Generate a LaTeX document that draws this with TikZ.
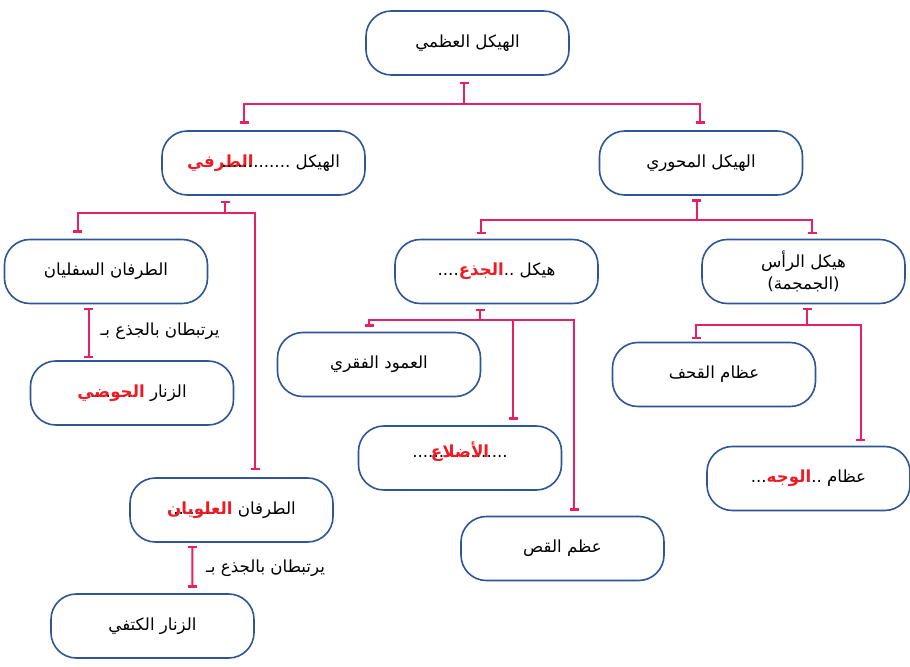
\documentclass[tikz,border=0pt]{standalone}
\usepackage{fontspec}
\setmainfont{DejaVu Sans}
\newfontfamily\arabicfont[Script=Arabic]{DejaVu Sans}
\TeXXeTstate=1
\usetikzlibrary{arrows.meta,calc}
\definecolor{boxblue}{RGB}{47,85,151}
\definecolor{linkpink}{RGB}{233,30,99}
\definecolor{ansred}{RGB}{237,28,36}
\newcommand\AR[1]{{\arabicfont\beginR #1\endR}}
\newcommand\RED[1]{\textcolor{ansred}{\bfseries\AR{#1}}}
\newcommand\ANS[2]{\ooalign{\hfil #1\hfil\cr\hfil\RED{#2}\hfil\cr}}
\tikzset{
  box/.style={draw=boxblue, line width=1.2pt, rounded corners=19pt,
    minimum width=152.25pt, minimum height=48pt, inner sep=0pt,
    fill=white, align=center, font=\fontsize{12.5}{17}\selectfont},
  lbl/.style={inner sep=0pt, font=\fontsize{12.5}{15}\selectfont},
  conn/.style={draw=linkpink, line width=1.5pt,
    {Bar[width=6.75pt,line width=1.9pt]}-{Bar[width=6.75pt,line width=1.9pt]}}
}
\begin{document}
\begin{tikzpicture}[x=0.75pt,y=-0.75pt]
\fill[white] (0,0) rectangle (910,667);
\useasboundingbox (0,0) rectangle (910,667);

% nodes
\node[box] (A) at (467.5,43) {\AR{الهيكل العظمي}};
\node[box] (B) at (263.5,163) {\RED{الطرفي}\kern-24pt.............~\AR{الهيكل}};
\node[box] (C) at (701,163) {\AR{الهيكل المحوري}};
\node[box] (D) at (106,271.5) {\AR{الطرفان السفليان}};
\node[box] (F) at (496.5,271.5) {....\RED{الجذع}..~\AR{هيكل}};
\node[box] (G) at (803.5,271.5) {\AR{هيكل الرأس}\\(\AR{الجمجمة})};
\node[box] (E) at (132,393) {\ANS{........}{الحوضي}~\AR{الزنار}};
\node[box] (J) at (379,364.5) {\AR{العمود الفقري}};
\node[box] (M) at (714,374.5) {\AR{عظام القحف}};
\node[box] (K) at (460,458) {\ANS{..................}{الأضلاع}};
\node[box] (N) at (808.5,478.5) {...\RED{الوجه}..~\AR{عظام}};
\node[box] (H) at (231.5,510) {\ANS{..........}{العلويان}~\AR{الطرفان}};
\node[box] (L) at (562.5,548.5) {\AR{عظم القص}};
\node[box] (I) at (152.5,626) {\AR{الزنار الكتفي}};

\node[lbl] (lab1) at (160,331.7) {\AR{يرتبطان بالجذع بـ}};
\node[lbl] (lab2) at (265.5,568) {\AR{يرتبطان بالجذع بـ}};

% connectors
\draw[conn] ($(A.south)+(-3.5,6)$) -- ++(0,22) -| ($(B.north)+(-19.5,-6.5)$);
\draw[conn] ($(A.south)+(-3.5,6)$) -- ++(0,22) -| ($(C.north)+(-1,-6.5)$);

\draw[conn] ($(B.south)+(-38.2,5)$) -- ++(0,11.7) -| ($(D.north)+(-28.3,-6.2)$);
\draw[conn] ($(B.south)+(-38.2,5)$) -- ++(0,11.7) -| ($(H.north)+(23.5,-7)$);

\draw[conn] ($(C.south)+(-4.3,3.5)$) -- ++(0,20.8) -| ($(F.north)+(-15.5,-4.5)$);
\draw[conn] ($(C.south)+(-4.3,3.5)$) -- ++(0,20.8) -| ($(G.north)+(8.8,-4.5)$);

\draw[conn] ($(D.south)+(-17.3,3.2)$) -- ($(E.north)+(-43.3,-2)$);
\draw[conn] ($(H.south)+(-39.2,3)$) -- ($(I.north)+(39.8,-5.7)$);

\draw[conn] ($(F.south)+(-16.5,4.2)$) -- ++(0,11.3) -| ($(J.north)+(-10,-4.8)$);
\draw[conn] ($(F.south)+(-16.5,4.2)$) -- ++(0,11.3) -| ($(K.north)+(53.3,-5.3)$);
\draw[conn] ($(F.south)+(-16.5,4.2)$) -- ++(0,11.3) -| ($(L.north)+(11.5,-4.8)$);

\draw[conn] ($(G.south)+(3.8,3.2)$) -- ++(0,17.3) -| ($(M.north)+(-18,-2.5)$);
\draw[conn] ($(G.south)+(3.8,3.2)$) -- ++(0,17.3) -| ($(N.north)+(52.2,-4.5)$);
\end{tikzpicture}
\end{document}
